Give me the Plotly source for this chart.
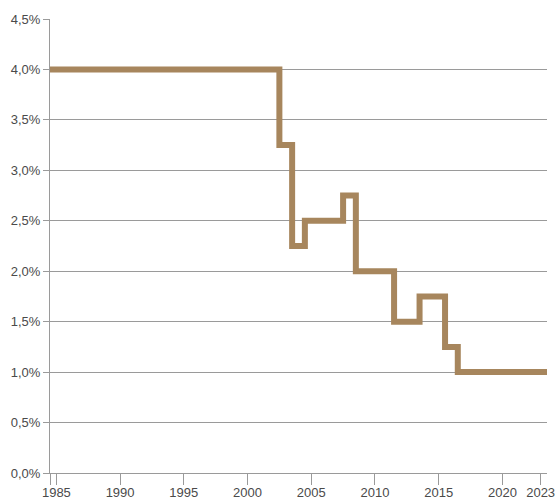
import plotly.graph_objects as go

# Data: rate (%) per year
years = list(range(1985, 2024))
rates = ([4.0] * 18 +          # 1985-2002
         [3.25] +              # 2003
         [2.25] +              # 2004
         [2.5] * 3 +           # 2005-2007
         [2.75] +              # 2008
         [2.0] * 3 +           # 2009-2011
         [1.5] * 2 +           # 2012-2013
         [1.75] * 2 +          # 2014-2015
         [1.25] +              # 2016
         [1.0] * 7)            # 2017-2023

x_ticks = [1985, 1990, 1995, 2000, 2005, 2010, 2015, 2020, 2023]
y_ticks = [0, 0.5, 1.0, 1.5, 2.0, 2.5, 3.0, 3.5, 4.0, 4.5]
y_tick_labels = ["0,0%", "0,5%", "1,0%", "1,5%", "2,0%", "2,5%", "3,0%", "3,5%", "4,0%", "4,5%"]

# each year's rate applies over the band [year-0.5, year+0.5]
xs = [y - 0.5 for y in years] + [years[-1] + 0.5]
ys = rates + [rates[-1]]

LINE = "#A7865D"
GRID = "#9a9a9a"
TXT = "#4a4a4a"

fig = go.Figure()
fig.add_trace(go.Scatter(x=xs, y=ys, mode="lines", line=dict(color=LINE, width=6, shape="hv"),
                         hoverinfo="skip", showlegend=False))

x_lo, x_hi = years[0] - 0.5, years[-1] + 0.5
fig.update_layout(
    width=555, height=499,
    margin=dict(l=50, r=8, t=19, b=26, autoexpand=False),
    paper_bgcolor="white", plot_bgcolor="white",
    font=dict(family="Liberation Sans, Arial, sans-serif", size=13, color=TXT),
    showlegend=False,
)
fig.update_xaxes(
    range=[x_lo, x_hi],
    automargin=False,
    tickmode="array",
    tickvals=[x_lo] + x_ticks,
    ticktext=[""] + [str(t) for t in x_ticks],
    ticks="outside", ticklen=11, tickcolor=GRID, tickwidth=1,
    ticklabeloverflow="allow",
    ticklabelstandoff=-4,
    showgrid=False, zeroline=False,
    showline=True, linecolor=GRID, linewidth=1,
    tickfont=dict(size=13, color=TXT),
)
fig.update_yaxes(
    range=[0, 4.5],
    automargin=False,
    tickmode="array", tickvals=y_ticks, ticktext=y_tick_labels,
    ticks="outside", ticklen=6, tickcolor=GRID, tickwidth=1,
    showgrid=True, gridcolor=GRID, gridwidth=1,
    zeroline=False,
    showline=True, linecolor=GRID, linewidth=1,
    tickfont=dict(size=13, color=TXT),
)

fig.write_html("out.html", config={"displayModeBar": False},
               post_script="document.body.style.margin='0';")
